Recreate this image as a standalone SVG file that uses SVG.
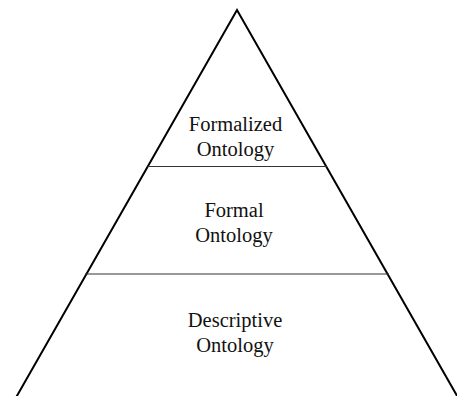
<svg xmlns="http://www.w3.org/2000/svg" width="457" height="396" viewBox="0 0 457 396">
<style>
.edge{stroke:#000;stroke-width:2;fill:none;stroke-linejoin:miter}
.div{stroke:#333;stroke-width:1.2;fill:none}
.lbl{font-size:20.5px;fill:#111;text-anchor:middle}
</style>
<rect width="457" height="396" fill="#fff"/>
<g id="connectors">
<polyline class="edge" points="14.6,400 237,10 459.4,400"/>
<line class="div" x1="147.5" y1="166.5" x2="327" y2="166.5"/>
<line class="div" x1="85" y1="274" x2="389" y2="274"/>
</g>
<g font-family="'Liberation Serif', 'Times New Roman', 'DejaVu Serif', serif">
<g id="formalized">
<text class="lbl" x="235.5" y="131">Formalized</text>
<text class="lbl" x="235.5" y="156">Ontology</text>
</g>
<g id="formal">
<text class="lbl" x="234" y="217">Formal</text>
<text class="lbl" x="234" y="242">Ontology</text>
</g>
<g id="descriptive">
<text class="lbl" x="235" y="327">Descriptive</text>
<text class="lbl" x="235" y="352">Ontology</text>
</g>
</g>
</svg>
